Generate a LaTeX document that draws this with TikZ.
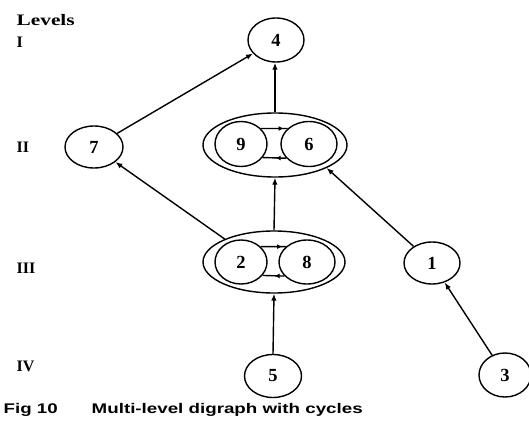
\documentclass[tikz,border=0pt]{standalone}
\usepackage{fontspec}
\usepackage{graphicx}
\setmainfont{Liberation Serif}
\newfontfamily\capfont{Liberation Sans}
\usetikzlibrary{shapes.geometric,arrows.meta,decorations.markings}
\begin{document}
\begin{tikzpicture}[x=1pt,y=-1pt,
  line width=1.4pt,
  vtx/.style={draw, ellipse, inner sep=0pt, font=\fontsize{18.5}{18.5}\selectfont\bfseries},
  grp/.style={draw, ellipse, inner sep=0pt},
  arr/.style={-{Latex[length=7pt,width=5.5pt]}},
  lvl/.style={anchor=base west, inner sep=0pt, font=\fontsize{16}{16}\selectfont\bfseries},
  captxt/.style={anchor=base west, inner sep=0pt, font=\capfont\fontsize{14}{14}\selectfont\bfseries},
  cycarr/.style={postaction={decorate}, decoration={markings, mark=at position #1 with {\arrow{Latex[length=5pt,width=5pt]}}}}
]
\useasboundingbox (0,0) rectangle (529,433);

% level labels
\node[lvl] (lvls) at (16,26) {\resizebox{58pt}{\height}{Levels}};
\node[lvl] (l1) at (16,48) {I};
\node[lvl] (l2) at (16,152) {II};
\node[lvl] (l3) at (16,273) {III};
\node[lvl] (l4) at (16,371) {IV};

% vertices
\node[vtx, minimum width=56pt, minimum height=44pt] (four) at (276,40) {4};
\node[vtx, minimum width=58pt, minimum height=42pt] (seven) at (94,147) {7};
\node[grp, minimum width=144pt, minimum height=64pt] (II) at (275,145) {};
\node[vtx, minimum width=52pt, minimum height=45pt] (nine) at (241,144) {9};
\node[vtx, minimum width=56pt, minimum height=45pt] (six) at (309,144) {6};
\node[grp, minimum width=142pt, minimum height=62pt] (III) at (274,262) {};
\node[vtx, minimum width=52pt, minimum height=44pt] (two) at (241,262) {2};
\node[vtx, minimum width=56pt, minimum height=44pt] (eight) at (307,262) {8};
\node[vtx, minimum width=56pt, minimum height=42pt] (one) at (432,263) {1};
\node[vtx, minimum width=57pt, minimum height=43pt] (five) at (273,376) {5};
\node[vtx, minimum width=52pt, minimum height=44pt] (three) at (505,375) {3};

% connectors
\draw[arr] (seven) -- (four);
\draw[arr] (II.north) -- (II.north |- four.south);
\draw[arr] (III.north) -- (II.south);
\draw[arr] (III.155) -- (seven);
\draw[arr] (one) -- (II.-24);
\draw[arr] (three) -- (one);
\draw[arr] (five.north) -- (III.south);

% cycles
\draw[cycarr=0.85] (nine.38) -- (six.144);
\draw[cycarr=0.45] (six.-148) -- (nine.-32);
\draw[cycarr=0.85] (two.38) -- (eight.144);
\draw[cycarr=0.45] (eight.-148) -- (two.-32);

% caption
\node[captxt] (cap1) at (3,413) {\resizebox{54pt}{\height}{Fig 10}};
\node[captxt] (cap2) at (91,413) {\resizebox{271pt}{\height}{Multi-level digraph with cycles}};
\end{tikzpicture}
\end{document}
